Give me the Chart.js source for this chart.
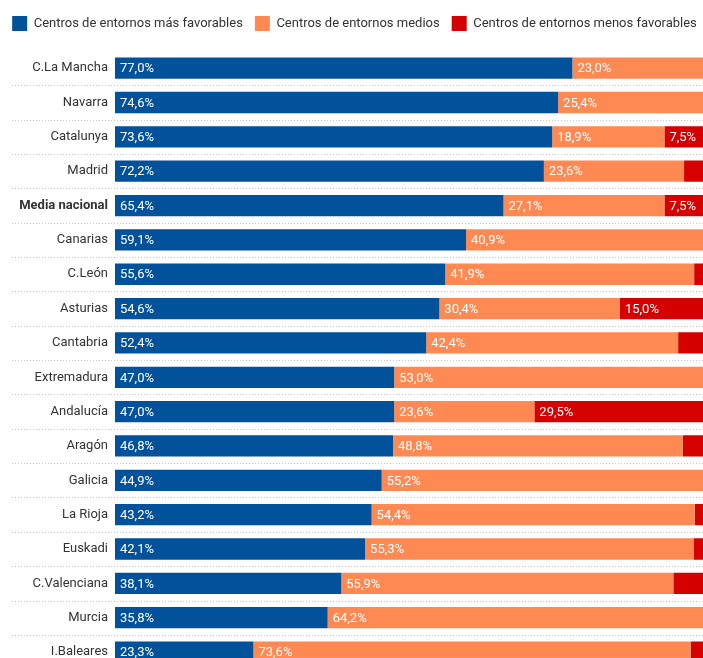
<!DOCTYPE html>
<html>
<head>
<meta charset="utf-8">
<script src="https://cdn.jsdelivr.net/npm/chart.js@4"></script>
<style>
  html, body { margin: 0; padding: 0; background: #fff; overflow: hidden; }
  canvas { display: block; }
</style>
</head>
<body>
<canvas id="myChart" width="709" height="684"></canvas>
<script>
const regiones = ['C.La Mancha', 'Navarra', 'Catalunya', 'Madrid', 'Media nacional', 'Canarias', 'C.León', 'Asturias',
  'Cantabria', 'Extremadura', 'Andalucía', 'Aragón', 'Galicia', 'La Rioja', 'Euskadi', 'C.Valenciana', 'Murcia', 'I.Baleares'];
const masFavorables = [77.0, 74.6, 73.6, 72.2, 65.4, 59.1, 55.6, 54.6, 52.4, 47.0, 47.0, 46.8, 44.9, 43.2, 42.1, 38.1, 35.8, 23.3];
const medios = [23.0, 25.4, 18.9, 23.6, 27.1, 40.9, 41.9, 30.4, 42.4, 53.0, 23.6, 48.8, 55.2, 54.4, 55.3, 55.9, 64.2, 73.6];
const menosFavorables = [0, 0, 7.5, 4.2, 7.5, 0, 2.5, 15.0, 5.2, 0, 29.5, 4.4, 0, 2.4, 2.6, 6.0, 0, 3.1];

Chart.defaults.font.family = 'Roboto';
Chart.defaults.font.size = 13;
Chart.defaults.color = '#333';

// leave more room under the legend
const espacioLeyenda = {
  id: 'espacioLeyenda',
  beforeInit(chart) {
    const fit = chart.legend.fit;
    chart.legend.fit = function () {
      fit.call(this);
      this.height = 47;
    };
  }
};

// dotted separators between rows, running under the labels too
const separadores = {
  id: 'separadores',
  beforeDatasetsDraw(chart) {
    const y = chart.scales.y;
    const ctx = chart.ctx;
    const step = y.getPixelForValue(1) - y.getPixelForValue(0);
    ctx.save();
    ctx.strokeStyle = '#c8c8c8';
    ctx.lineWidth = 1;
    ctx.setLineDash([1, 2]);
    for (let i = 0; i < regiones.length; i++) {
      const py = Math.round(y.getPixelForValue(i) + step / 2) + 0.5;
      ctx.beginPath();
      ctx.moveTo(12, py);
      ctx.lineTo(chart.width, py);
      ctx.stroke();
    }
    ctx.restore();
  }
};

// value labels at the left of each segment
const etiquetas = {
  id: 'etiquetas',
  afterDatasetsDraw(chart) {
    const ctx = chart.ctx;
    ctx.save();
    ctx.font = '13px Roboto';
    ctx.fillStyle = '#fff';
    ctx.textBaseline = 'middle';
    chart.data.datasets.forEach((ds, i) => {
      chart.getDatasetMeta(i).data.forEach((bar, j) => {
        const v = ds.data[j];
        if (v < 7) return;
        ctx.fillText(v.toFixed(1).replace('.', ',') + '%', bar.base + 5, bar.y + 1);
      });
    });
    ctx.restore();
  }
};

new Chart(document.getElementById('myChart'), {
  type: 'bar',
  data: {
    labels: regiones,
    datasets: [
      { label: 'Centros de entornos más favorables', data: masFavorables, backgroundColor: '#02529b' },
      { label: 'Centros de entornos medios', data: medios, backgroundColor: '#ff8952' },
      { label: 'Centros de entornos menos favorables', data: menosFavorables, backgroundColor: '#d50000' }
    ]
  },
  options: {
    indexAxis: 'y',
    responsive: false,
    animation: false,
    layout: { padding: { top: 4 } },
    datasets: {
      bar: { barPercentage: 1, categoryPercentage: 0.62 }
    },
    scales: {
      x: { stacked: true, min: 0, max: 100, display: false },
      y: {
        stacked: true,
        grid: { display: false, drawTicks: false },
        border: { display: false },
        afterFit(scale) { scale.width = 115; },
        ticks: {
          padding: 7,
          color: '#333',
          font: ctx => ({ size: 13, weight: regiones[ctx.index] === 'Media nacional' ? 'bold' : 'normal' })
        }
      }
    },
    plugins: {
      legend: {
        labels: { boxWidth: 15, boxHeight: 15, padding: 12, color: '#333', font: { size: 13 } }
      },
      tooltip: { enabled: false }
    }
  },
  plugins: [espacioLeyenda, separadores, etiquetas]
});
</script>
</body>
</html>
